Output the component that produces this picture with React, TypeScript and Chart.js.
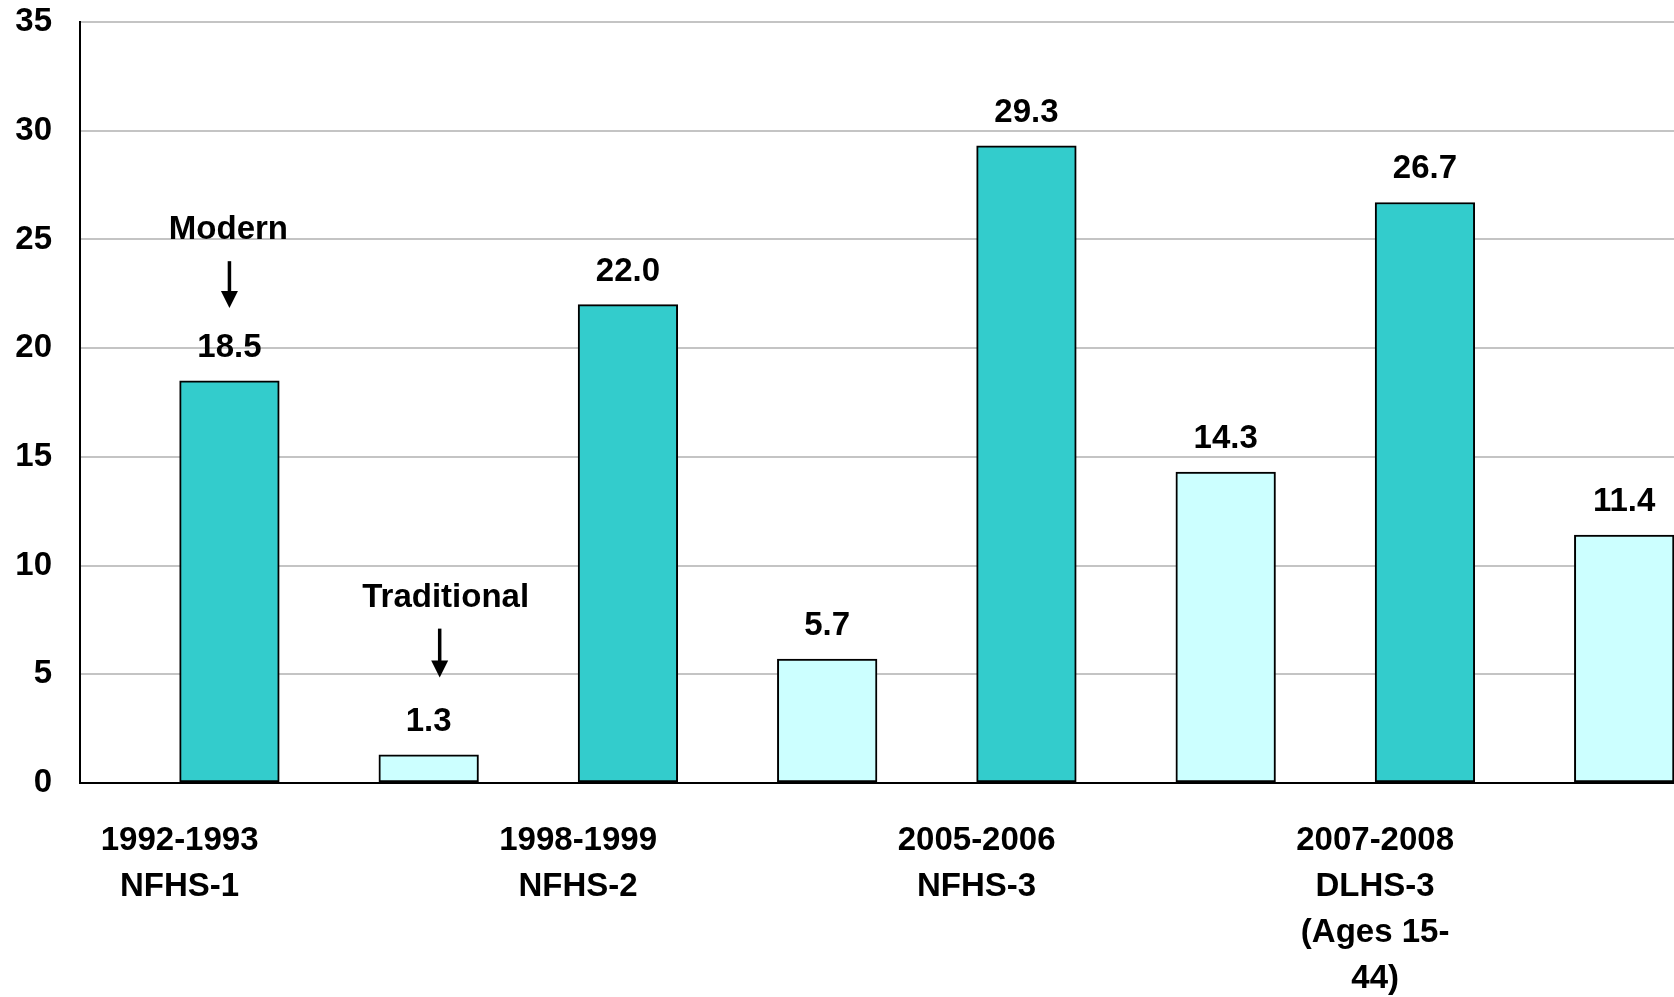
import React, { useEffect, useRef } from "react";
import { Chart, registerables } from "chart.js";

Chart.register(...registerables);

// ---- data ----
const slotLabels: (string | string[])[] = [
  ["1992-1993", "NFHS-1"],
  "",
  ["1998-1999", "NFHS-2"],
  "",
  ["2005-2006", "NFHS-3"],
  "",
  ["2007-2008", "DLHS-3", "(Ages 15-", "44)"],
  "",
];
const methodTypes = ["Modern", "Traditional", "Modern", "Traditional", "Modern", "Traditional", "Modern", "Traditional"];
const rates = [18.5, 1.3, 22.0, 5.7, 29.3, 14.3, 26.7, 11.4];
const spacer = [null, null, null, null, null, null, null, null];

const yMin = 0;
const yMax = 35;
const yStep = 5;

// annotations (texts + their value levels on the y scale)
const annotationTexts = ["Modern", "Traditional"];
const annotationBars = [0, 1];
const annotationTextY = [25.45, 8.5];
const arrowTopY = [24.0, 7.1];
const arrowTipY = [21.85, 4.85];

// ---- styles ----
const FONT = "'Liberation Sans', Arial, sans-serif";
const FONT_SIZE = 33;
const typeColors: Record<string, string> = { Modern: "#33CCCC", Traditional: "#CCFFFF" };
const annotationTextDx = [-1, 17];
const annotationArrowDx = [0, 11];

const overlayPlugin = {
  id: "overlay",
  afterDatasetsDraw(chart: any) {
    const ctx = chart.ctx;
    const meta = chart.getDatasetMeta(1);
    const yScale = chart.scales.y;
    ctx.save();
    ctx.fillStyle = "#000";
    ctx.font = `bold ${FONT_SIZE}px ${FONT}`;
    ctx.textAlign = "center";
    ctx.textBaseline = "alphabetic";
    meta.data.forEach((bar: any, i: number) => {
      const v = rates[i];
      ctx.fillText(v.toFixed(1), bar.x, bar.y - 24);
    });
    // annotations
    annotationTexts.forEach((t, k) => {
      const bar = meta.data[annotationBars[k]];
      const tx = bar.x + annotationTextDx[k];
      const ty = yScale.getPixelForValue(annotationTextY[k]);
      ctx.textBaseline = "middle";
      ctx.fillText(t, tx, ty);
      const ax = bar.x + annotationArrowDx[k];
      const a0 = yScale.getPixelForValue(arrowTopY[k]);
      const a1 = yScale.getPixelForValue(arrowTipY[k]);
      ctx.strokeStyle = "#000";
      ctx.lineWidth = 3.5;
      ctx.beginPath();
      ctx.moveTo(ax, a0);
      ctx.lineTo(ax, a1 - 14);
      ctx.stroke();
      ctx.beginPath();
      ctx.moveTo(ax - 8.5, a1 - 17);
      ctx.lineTo(ax + 8.5, a1 - 17);
      ctx.lineTo(ax, a1);
      ctx.closePath();
      ctx.fill();
    });
    ctx.restore();
  },
};

export default function App() {
  const ref = useRef<HTMLCanvasElement | null>(null);
  useEffect(() => {
    document.body.style.margin = "0";
    if (!ref.current) return;
    const chart = new Chart(ref.current, {
      type: "bar",
      data: {
        labels: slotLabels,
        datasets: [
          {
            label: "spacer",
            data: spacer as any,
            backgroundColor: "rgba(0,0,0,0)",
          },
          {
            label: "Contraceptive use",
            data: rates,
            backgroundColor: methodTypes.map((t) => typeColors[t]),
            borderColor: "#000",
            borderWidth: 2,
            borderSkipped: false as any,
          },
        ],
      },
      options: {
        animation: false,
        responsive: true,
        maintainAspectRatio: false,
        layout: { padding: { top: 22, left: 16, right: 0, bottom: 0 } },
        datasets: { bar: { categoryPercentage: 1, barPercentage: 1 } },
        plugins: { legend: { display: false }, tooltip: { enabled: false } },
        scales: {
          x: {
            grid: { display: false, drawTicks: false },
            border: { display: true, color: "#000", width: 2 },
            afterFit: (scale: any) => {
              scale.height = 214;
            },
            ticks: {
              color: "#000",
              padding: 35,
              maxRotation: 0,
              autoSkip: false,
              font: { family: FONT, size: FONT_SIZE, weight: "bold", lineHeight: 46 / FONT_SIZE },
            },
          },
          y: {
            min: yMin,
            max: yMax,
            grid: { color: "#C4C4C4", lineWidth: 2, drawTicks: false },
            border: { display: true, color: "#000", width: 2 },
            afterFit: (scale: any) => {
              scale.width = 64;
              scale.paddingTop = 0;
              scale.paddingBottom = 0;
            },
            ticks: {
              stepSize: yStep,
              color: "#000",
              padding: 28,
              font: { family: FONT, size: FONT_SIZE, weight: "bold" },
            },
          },
        },
      },
      plugins: [overlayPlugin],
    });
    return () => chart.destroy();
  }, []);
  return (
    <div style={{ position: "relative", width: "1674px", height: "997px" }}>
      <canvas ref={ref} />
    </div>
  );
}
